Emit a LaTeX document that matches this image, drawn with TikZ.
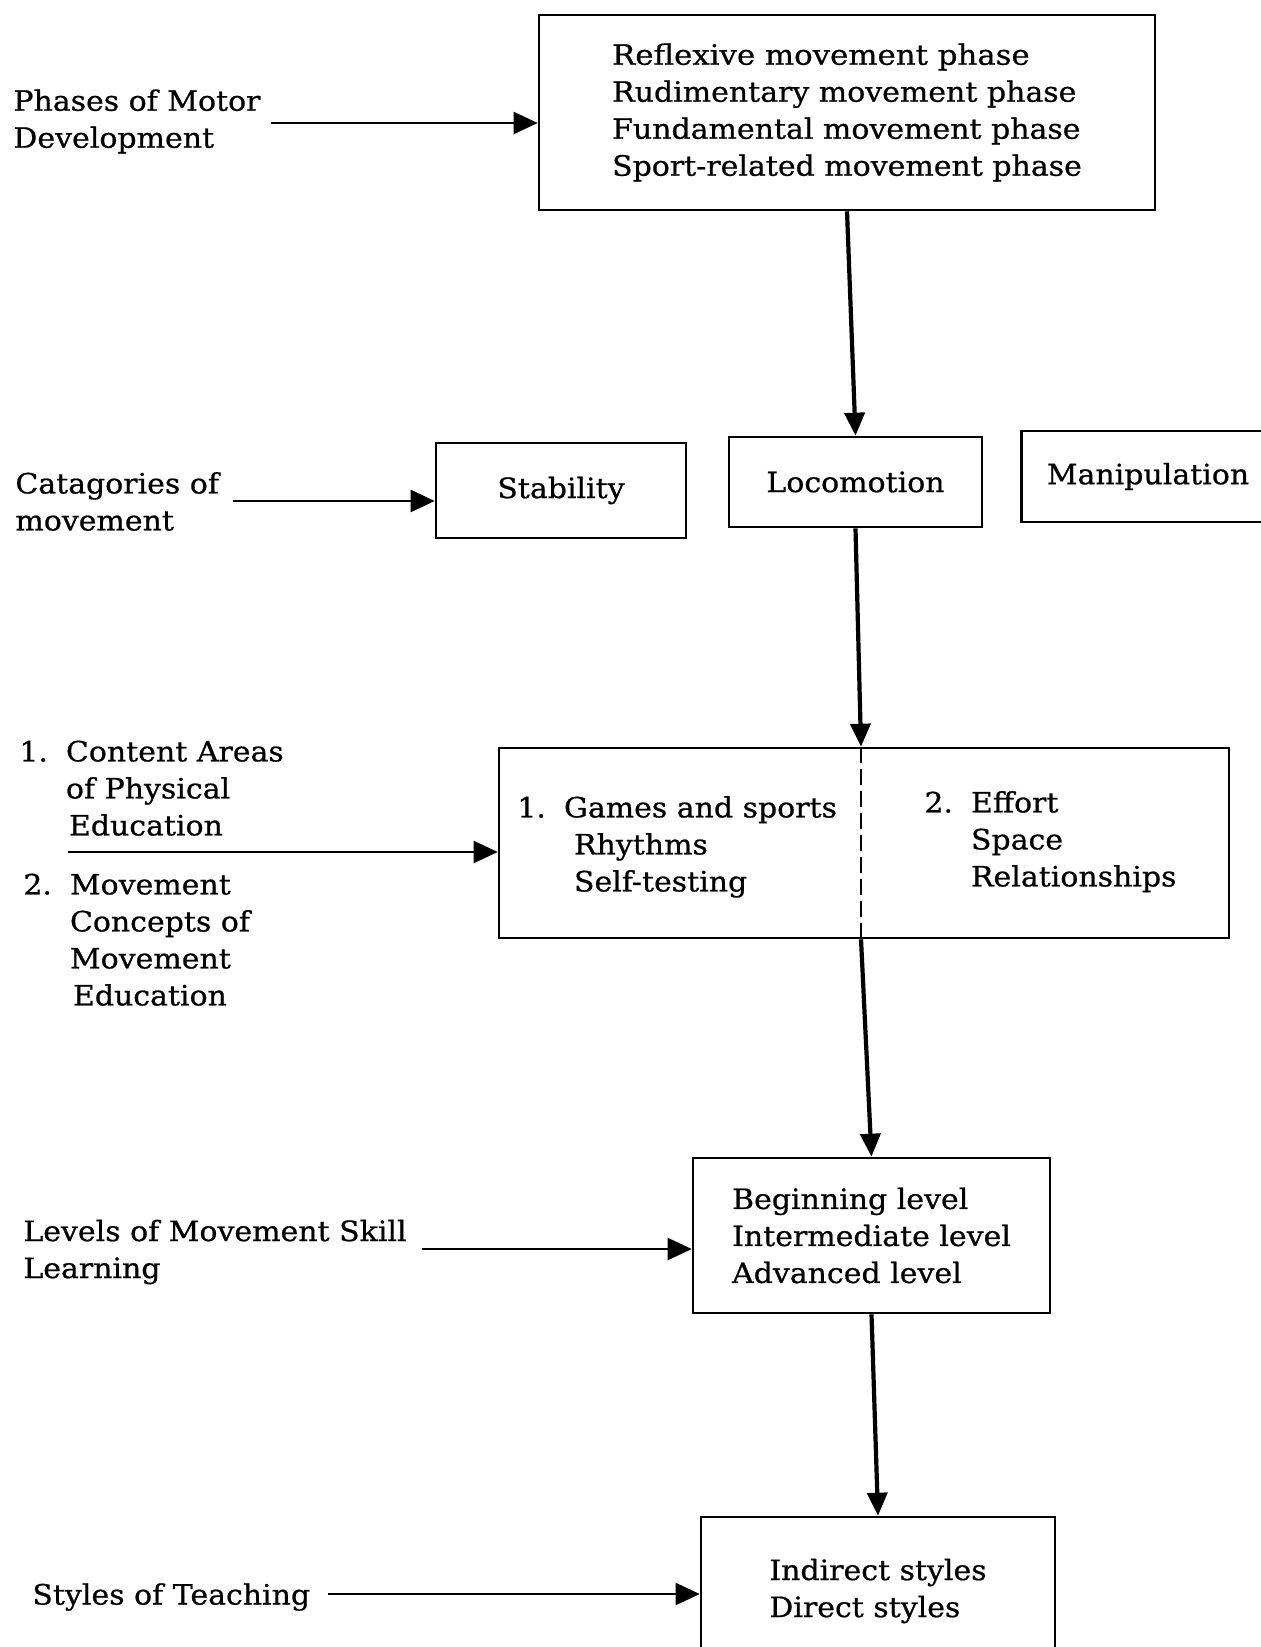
\documentclass[tikz,border=0pt]{standalone}
\usepackage{fontspec}
\setmainfont{DejaVu Serif}[FakeStretch=1.07,FakeBold=0.7]
\usetikzlibrary{arrows.meta,calc}

\tikzset{
  px/.style={x=0.5pt,y=-0.5pt},
  box/.style={draw,line width=1.3pt,inner sep=0pt,align=left},
  lbl/.style={inner sep=0pt,anchor=west,align=left},
  harr/.style={line width=1.1pt,-{Triangle[length=12pt,width=11pt]}},
  varr/.style={line width=2.1pt,-{Triangle[length=11.5pt,width=10pt]}},
  divider/.style={line width=1.2pt,dash pattern=on 8pt off 3pt},
}
\newcommand{\txt}{\fontsize{14pt}{18.5pt}\selectfont}
% numbered item: number, gap, then lines
\newcommand{\numitem}[3]{\begin{tabular}{@{}l@{\hspace{#2}}l@{}}#1&#3\end{tabular}}

\begin{document}
\begin{tikzpicture}[px,every node/.append style={font=\txt}]
\useasboundingbox (0,0) rectangle (1261,1647);

% phases of motor development
\node[box,minimum width=308pt,minimum height=97.5pt] (top) at (847,112.5)
  {\addfontfeatures{FakeStretch=1.1}Reflexive movement phase\\Rudimentary movement phase\\Fundamental movement phase\\Sport-related movement phase};
\node[lbl] (lphase) at (13,121.5) {Phases of Motor\\Development};
\coordinate (a1) at (271,123);
\draw[harr] (a1) -- (a1 -| top.west);

% categories of movement
\node[box,minimum width=125pt,minimum height=47.5pt,align=center] (stab) at (561,490.5) {Stability};
\node[box,minimum width=126.5pt,minimum height=45pt,align=center] (loco) at (855.5,482) {Locomotion};
\node[box,minimum width=126.5pt,minimum height=45.5pt,align=center] (mani) at (1148,476.5) {Manipulation};
\node[lbl] (lcat) at (15,501.5) {Catagories of\\movement};
\coordinate (a2) at (233,501);
\draw[harr] (a2) -- (a2 -| stab.west);

\draw[varr] (top.south) -- (loco.north);

% content areas / movement concepts
\node[box,minimum width=365pt,minimum height=95pt] (mid) at (864,843) {};
\coordinate (dv) at (861,0);
\draw[divider] (mid.north -| dv) -- (mid.south -| dv);
\node[lbl] (mleft) at (517,847)
  {\numitem{1.}{9pt}{Games and sports\\&\hspace{5pt}Rhythms\\&\hspace{5pt}Self-testing}};
\node[lbl] (mright) at (924,842)
  {\numitem{2.}{9pt}{Effort\\&Space\\&Relationships}};
\node[lbl] (lcont) at (19,791)
  {\numitem{1.}{9pt}{Content Areas\\&of Physical\\&\hspace{1.5pt}Education}};
\node[lbl] (lconc) at (23,942.5)
  {\numitem{2.}{9pt}{Movement\\&Concepts of\\&Movement\\&\hspace{1.5pt}Education}};
\coordinate (a3) at (68,852);
\draw[harr] (a3) -- (a3 -| mid.west);

\draw[varr] (loco.south) -- (mid.north -| dv);

% levels of movement skill learning
\node[box,minimum width=178.5pt,minimum height=77.5pt] (lev) at (871.5,1235.5)
  {Beginning level\\Intermediate level\\Advanced level};
\node[lbl] (llev) at (23,1252) {Levels of Movement Skill\\Learning};
\coordinate (a4) at (422,1249);
\draw[harr] (a4) -- (a4 -| lev.west);

\draw[varr] (mid.south -| dv) -- (lev.north);

% styles of teaching
\node[box,minimum width=177pt,minimum height=74pt] (sty) at (878,1591)
  {Indirect styles\\Direct styles};
\node[lbl] (lsty) at (32,1597) {Styles of Teaching};
\coordinate (a5) at (328,1594);
\draw[harr] (a5) -- (a5 -| sty.west);

\draw[varr] (lev.south) -- (sty.north);
\end{tikzpicture}
\end{document}
